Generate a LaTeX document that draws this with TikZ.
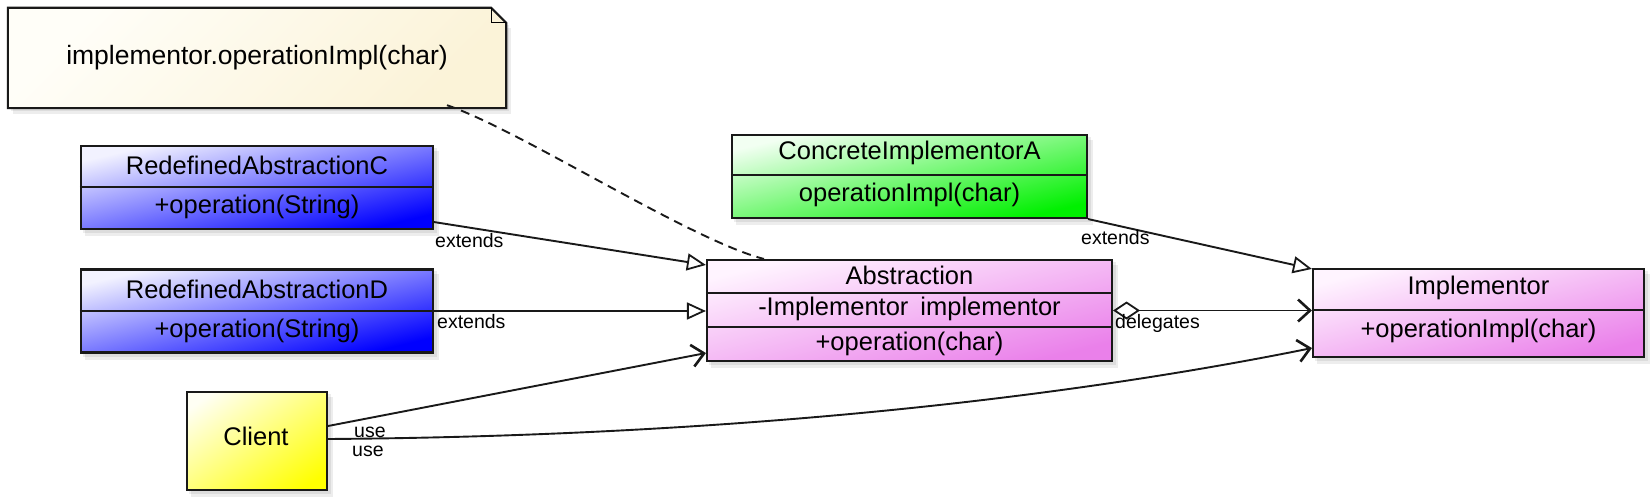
\documentclass[tikz,border=0pt]{standalone}
\usepackage{fontspec}
\setmainfont{Liberation Sans}
\usetikzlibrary{arrows.meta,calc,backgrounds}
\definecolor{bluelt}{HTML}{F2F2FF}
\definecolor{bluedk}{HTML}{0000FF}
\definecolor{greenlt}{HTML}{F2FFF2}
\definecolor{greendk}{HTML}{00F000}
\definecolor{violt}{HTML}{FFF4FF}
\definecolor{viodk}{HTML}{EA80EA}
\definecolor{yellt}{HTML}{FFFFF4}
\definecolor{yeldk}{HTML}{FFFF00}
\definecolor{notelt}{HTML}{FFFEF8}
\definecolor{notedk}{HTML}{FBF3D8}
\pgfdeclareverticalshading{shblue}{100bp}{color(0bp)=(bluedk); color(21bp)=(bluedk); color(79bp)=(bluelt); color(100bp)=(bluelt)}
\pgfdeclareverticalshading{shgreen}{100bp}{color(0bp)=(greendk); color(21bp)=(greendk); color(79bp)=(greenlt); color(100bp)=(greenlt)}
\pgfdeclareverticalshading{shvio}{100bp}{color(0bp)=(viodk); color(21bp)=(viodk); color(79bp)=(violt); color(100bp)=(violt)}
\pgfdeclareverticalshading{shyel}{100bp}{color(0bp)=(yeldk); color(21bp)=(yeldk); color(79bp)=(yellt); color(100bp)=(yellt)}
\newcommand{\gradbox}[6]{%
  \node[box, minimum width=#4pt, minimum height=#5pt] (#1) at (#2,#3) {};
  \begin{pgfonlayer}{background}
    \fill[black, opacity=0.07] ([shift={(3pt,-3pt)}]#1.south west) rectangle ([shift={(3pt,-3pt)}]#1.north east);
    \fill[black, opacity=0.07] ([shift={(5pt,-6pt)}]#1.south west) rectangle ([shift={(5pt,-6pt)}]#1.north east);
    \begin{scope}
      \clip (#1.south west) rectangle (#1.north east);
      \begin{scope}[transform canvas={shift={(#2,#3)}, xscale=#4/#5}]
        \shade[shading=#6, shading angle=45] (-#5/2,-#5/2) rectangle (#5/2,#5/2);
      \end{scope}
    \end{scope}
  \end{pgfonlayer}}
\begin{document}
\begin{tikzpicture}[x=1pt,y=-1pt,
  box/.style={draw=black!90, line width=2.1pt, inner sep=0pt},
  txt/.style={font=\fontsize{25.5}{28}\selectfont, inner sep=0pt},
  lbl/.style={font=\fontsize{19.5}{21}\selectfont, inner sep=0pt, anchor=west},
  div/.style={line width=1.8pt, draw=black!90},
  conn/.style={line width=1.9pt, draw=black!90},
  gen/.style={conn, -{Triangle[open, length=19pt, width=17pt, line width=1.8pt]}},
  vtip/.style={conn, -{Straight Barb[length=12pt, width=22pt, line width=2.6pt]}},
]
\useasboundingbox (0,0) rectangle (1652,497);

% note
\node[txt, font=\fontsize{26.5}{30}\selectfont, minimum width=498pt, minimum height=100pt] (note) at (257,58) {implementor.operationImpl(char)};
\begin{pgfonlayer}{background}
\fill[black, opacity=0.07] ([shift={(3pt,-3pt)}]note.south west) rectangle ([shift={(3pt,-17pt)}]note.north east);
\fill[black, opacity=0.07] ([shift={(5pt,-6pt)}]note.south west) rectangle ([shift={(5pt,-20pt)}]note.north east);
\path[draw=black!90, line width=2.1pt, top color=notelt, bottom color=notedk, shading angle=45]
  (note.north west) -- ([xshift=-15pt]note.north east) -- ([yshift=-15pt]note.north east)
  -- (note.south east) -- (note.south west) -- cycle;
\end{pgfonlayer}
\draw[line width=1.4pt] ([xshift=-15pt]note.north east) -- ([xshift=-15pt,yshift=-15pt]note.north east) -- ([yshift=-15pt]note.north east);

% RedefinedAbstractionC
\gradbox{redC}{257}{187.5}{352}{83}{shblue}
\draw[div] (redC.west |- 0,187) -- (redC.east |- 0,187);
\node[txt] (redCt) at (257,165) {RedefinedAbstractionC};
\node[txt] (redCo) at (257,207) {+operation(String)};

% RedefinedAbstractionD
\gradbox{redD}{257}{311}{352}{83}{shblue}
\draw[div] (redD.west |- 0,311) -- (redD.east |- 0,311);
\node[txt] (redDt) at (257,289) {RedefinedAbstractionD};
\node[txt] (redDo) at (257,331) {+operation(String)};

% ConcreteImplementorA
\gradbox{conA}{909.5}{176.5}{355}{83}{shgreen}
\draw[div] (conA.west |- 0,175) -- (conA.east |- 0,175);
\node[txt] (conAt) at (909.5,153) {ConcreteImplementorA};
\node[txt] (conAo) at (909.5,195) {operationImpl(char)};

% Abstraction
\gradbox{abs}{909.5}{310.5}{405}{101}{shvio}
\draw[div] (abs.west |- 0,293) -- (abs.east |- 0,293);
\draw[div] (abs.west |- 0,327) -- (abs.east |- 0,327);
\node[txt] (abst) at (909.5,275) {Abstraction};
\node[txt] (absa) at (909.5,309) {-Implementor\hspace{12pt}implementor};
\node[txt] (abso) at (909.5,344) {+operation(char)};

% Implementor
\gradbox{impl}{1478.5}{313}{331}{88}{shvio}
\draw[div] (impl.west |- 0,310) -- (impl.east |- 0,310);
\node[txt] (implt) at (1478.5,288) {Implementor};
\node[txt] (implo) at (1478.5,331) {+operationImpl(char)};

% Client
\gradbox{client}{257}{441}{140}{98}{shyel}
\node[txt] (clientt) at (256,436) {Client};

% connectors
\draw[gen] ([yshift=8pt]redC.south east) -- ([yshift=-6pt]abs.north west);
\node[lbl] (l1) at (435,241) {extends};
\draw[gen] (redD.east) -- (redD.east -| abs.west);
\node[lbl] (l2) at (437,322) {extends};
\draw[gen] (conA.south east) -- ([yshift=-1pt]impl.north west);
\node[lbl] (l3) at (1081,238) {extends};
\draw[conn, {Diamond[open, length=27pt, width=18pt, line width=1.8pt]}-{Straight Barb[length=12pt, width=22pt, line width=2.6pt]}]
  (abs.east) -- (abs.east -| impl.west);
\node[lbl] (l4) at (1115,323) {delegates};
\draw[vtip] ([yshift=15pt]client.east) -- ([yshift=9pt]abs.south west);
\node[lbl] (l5) at (354,432) {use};
\draw[vtip] ([yshift=2pt]client.east) .. controls (750,436) and (1080,395) .. ([yshift=10pt]impl.south west);
\node[lbl] (l6) at (352,451) {use};
\draw[conn, dashed, dash pattern=on 9pt off 6pt] ([xshift=190pt,yshift=3pt]note.south) .. controls (520,130) and (690,240) .. ([xshift=58pt]abs.north west);
\end{tikzpicture}
\end{document}
